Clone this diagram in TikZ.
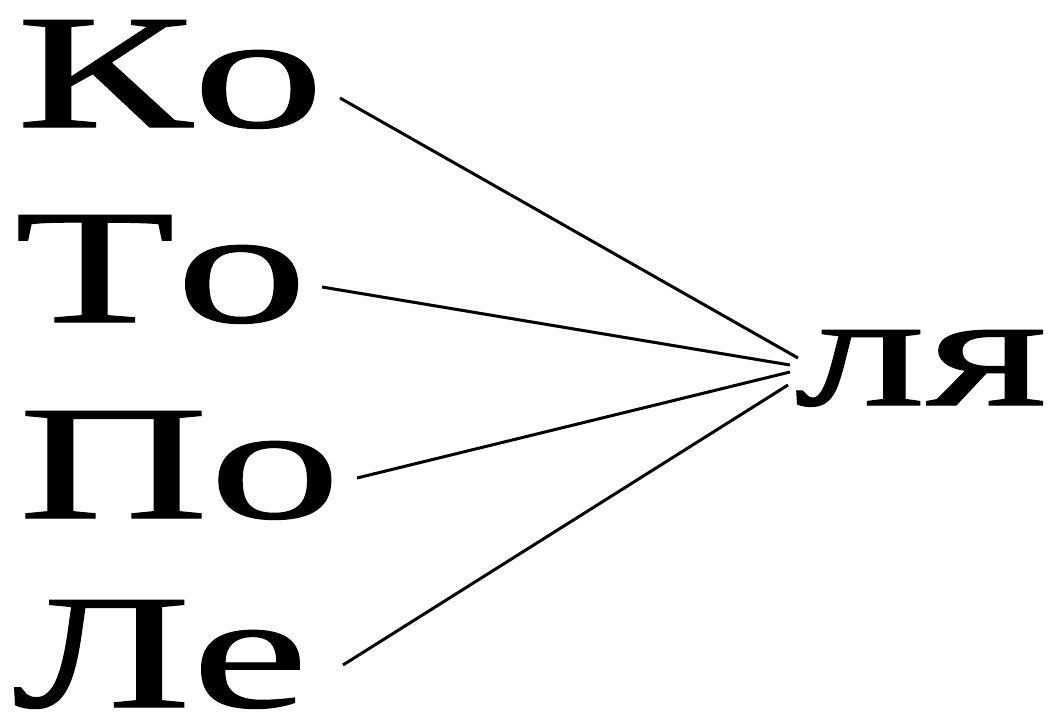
\documentclass[tikz,border=0pt]{standalone}
\usepackage{fontspec}
\setmainfont{Liberation Serif}[FakeStretch=1.62,FakeBold=0.7,Kerning=Off]
\begin{document}
\begin{tikzpicture}[x=1pt,y=-1pt,
  syl/.style={anchor=base west,inner sep=0pt,font=\fontsize{163}{163}\selectfont},
  link/.style={line width=3pt,black}]
\useasboundingbox (0,0) rectangle (1060,721);
\node[syl] (ko) at (16,127) {Ко};
\node[syl] (to) at (14,322) {То};
\node[syl] (po) at (18,518) {По};
\node[syl] (le) at (12,707) {Ле};
\node[syl] (lya) at (794,405) {ля};
\coordinate (s1) at (340,98);
\coordinate (s2) at (322,287);
\coordinate (s3) at (357,478);
\coordinate (s4) at (343,665);
\coordinate (e1) at (798,358);
\coordinate (e2) at (790,365);
\coordinate (e3) at (790,372);
\coordinate (e4) at (788,385);
\draw[link] (s1) -- (e1);
\draw[link] (s2) -- (e2);
\draw[link] (s3) -- (e3);
\draw[link] (s4) -- (e4);
\end{tikzpicture}
\end{document}
